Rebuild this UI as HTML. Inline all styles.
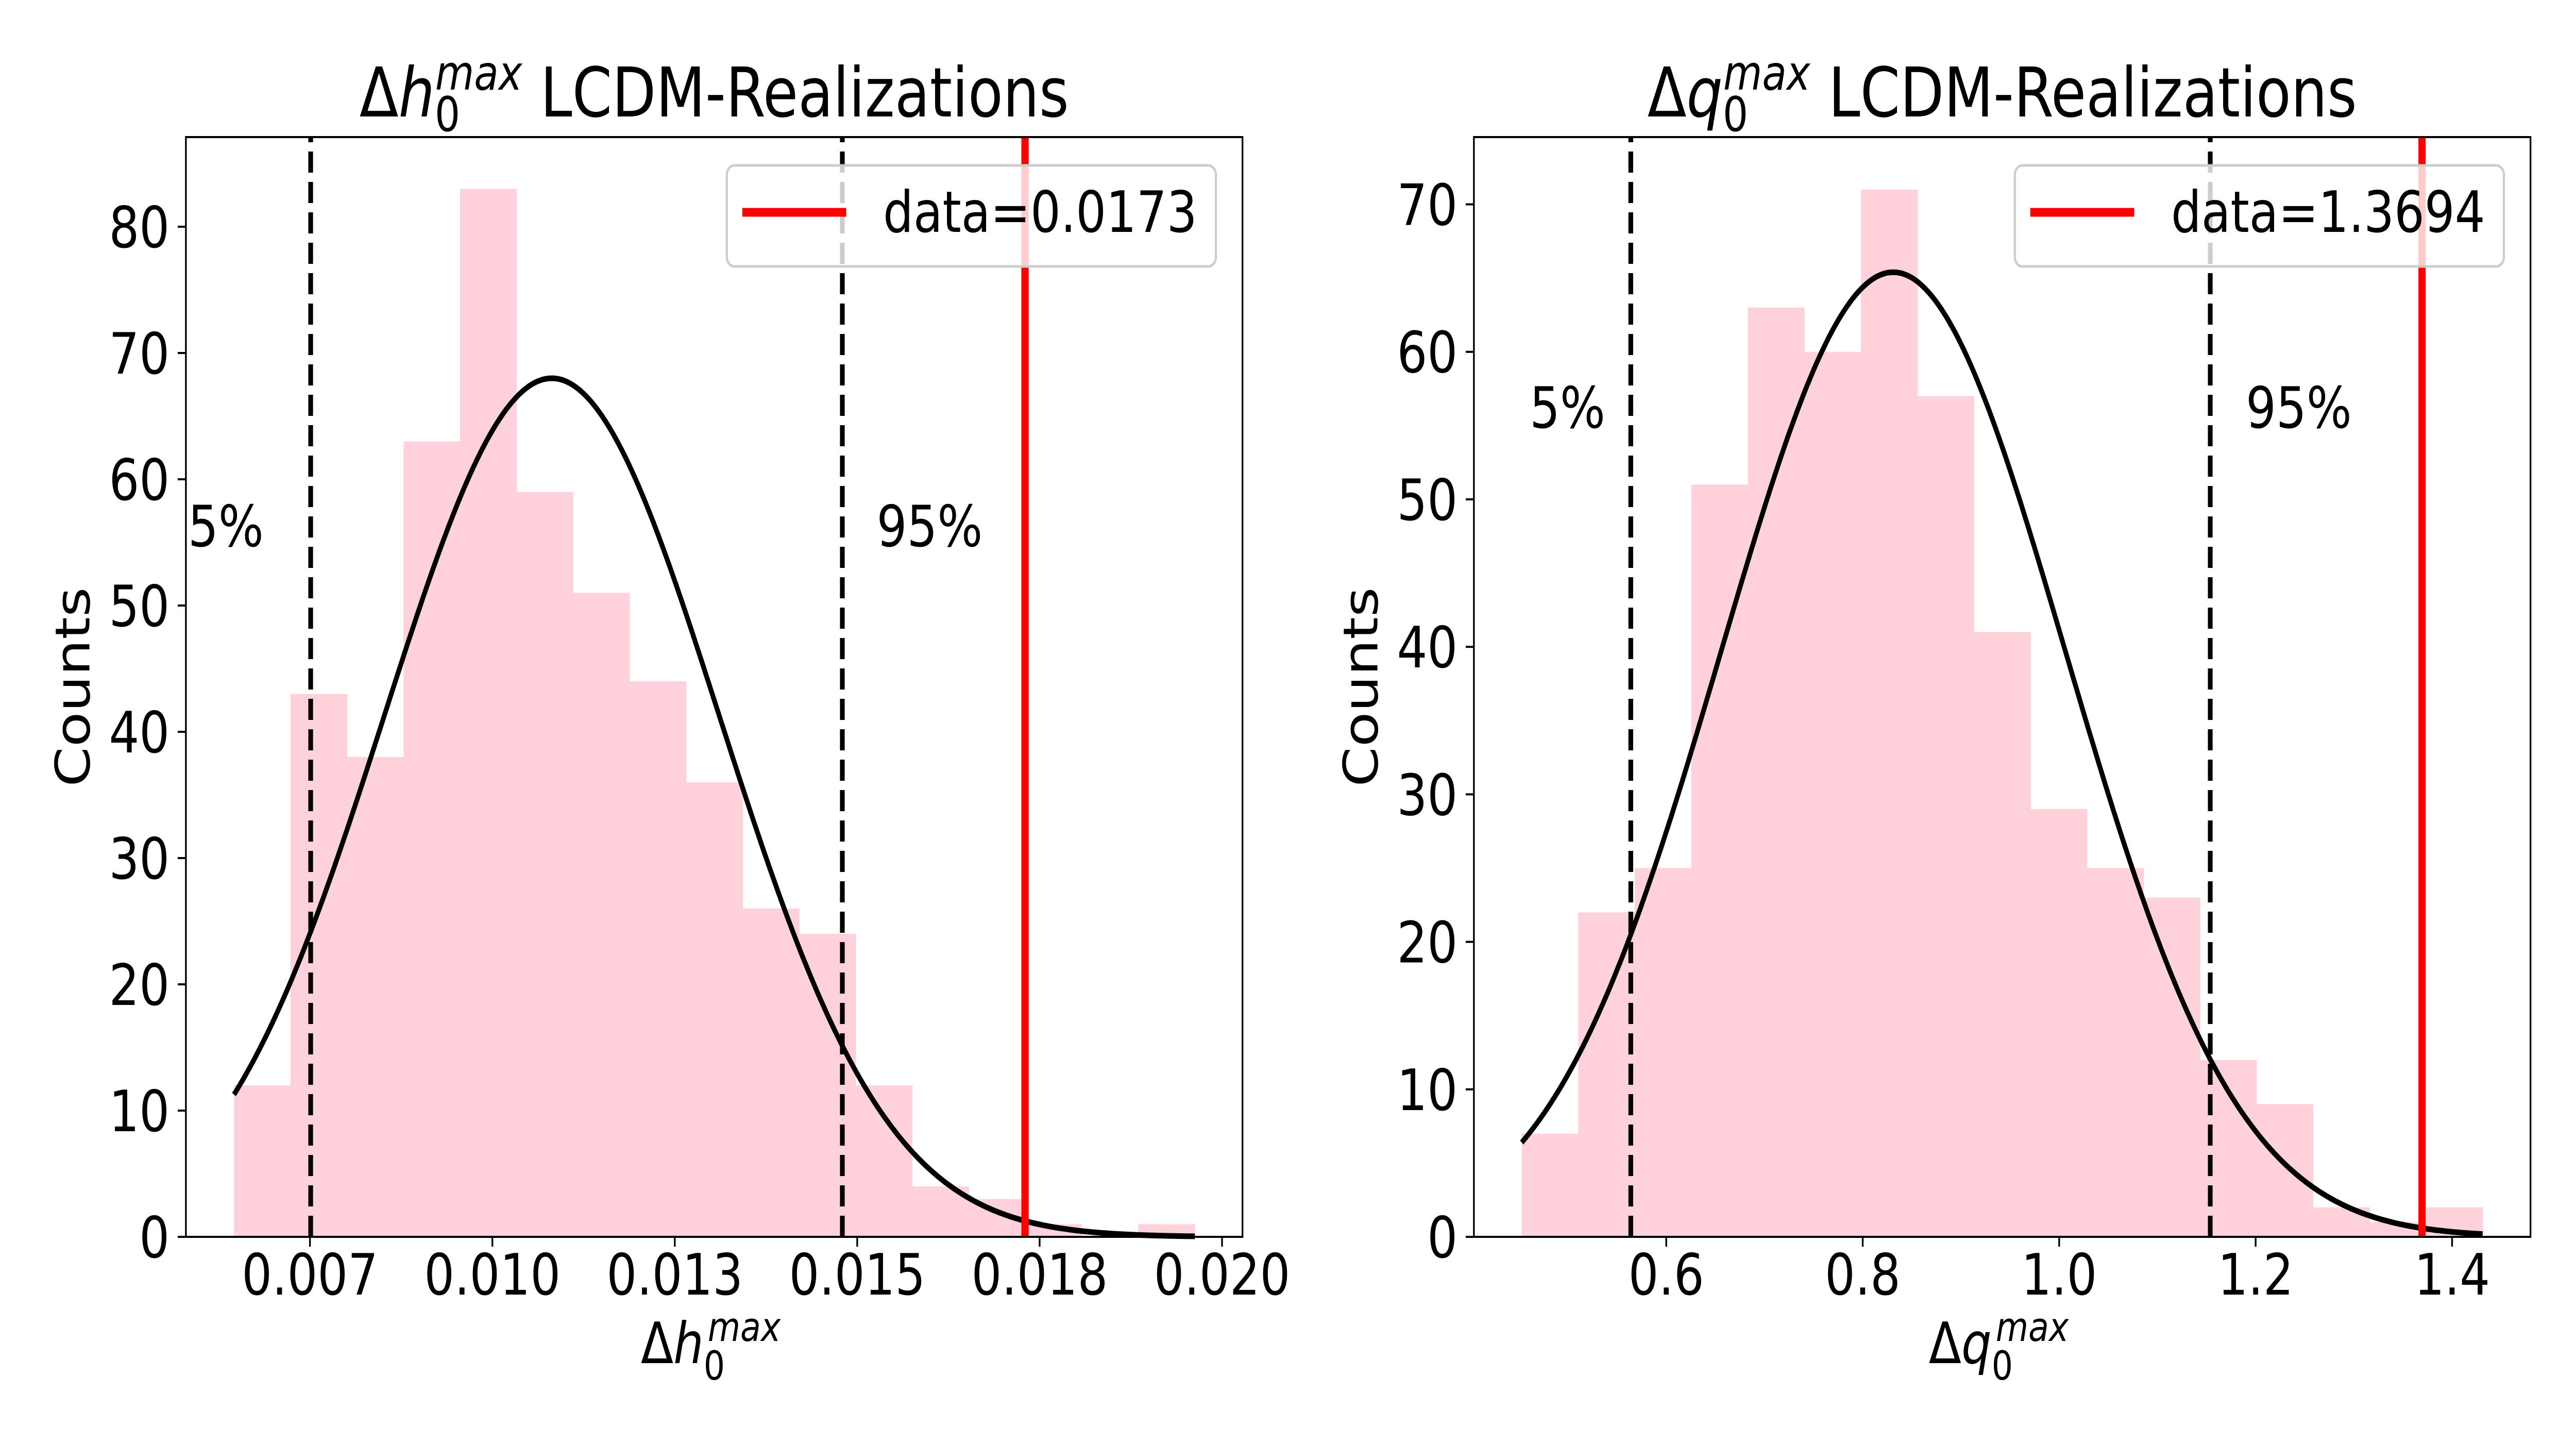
<!DOCTYPE html>
<html><head><meta charset="utf-8"><style>
html,body{margin:0;padding:0;background:#fff;overflow:hidden;width:100%;height:100%;}
svg{display:block;font-family:"DejaVu Sans","Liberation Sans",sans-serif;width:100vw;height:100vh;}
</style></head><body>
<svg id="fig" viewBox="0 0 6000 2800" preserveAspectRatio="none" xmlns="http://www.w3.org/2000/svg"></svg>
<script>
// ---- Left panel data ----
const hCounts = [12,43,38,63,83,59,51,44,36,26,24,12,4,3,1,0,1];
const hBinStart = 0.006459;
const hBinEnd = 0.019627;
const hTicks = [0.0075,0.01,0.0125,0.015,0.0175,0.02];
const hTickLabels = ["0.007","0.010","0.013","0.015","0.018","0.020"];
const hYTicks = [0,10,20,30,40,50,60,70,80];
const hPercentiles = [0.00751,0.014796];
const hData = [0.0173];
const hFit = [0.010814,0.002297,68];
// ---- Right panel data ----
const qCounts = [7,22,25,51,63,60,71,57,41,29,25,23,12,9,2,1,2];
const qBinStart = 0.4529;
const qBinEnd = 1.4311;
const qTicks = [0.6,0.8,1.0,1.2,1.4];
const qTickLabels = ["0.6","0.8","1.0","1.2","1.4"];
const qYTicks = [0,10,20,30,40,50,60,70];
const qPercentiles = [0.5639,1.1538];
const qData = [1.3694];
const qFit = [0.8311,0.1754,65.4];

const NS="http://www.w3.org/2000/svg";
const svg=document.getElementById('fig');
function mk(tag,attrs,parent){const e=document.createElementNS(NS,tag);for(const k in attrs)e.setAttribute(k,attrs[k]);(parent||svg).appendChild(e);return e;}

function panel(o){
  const g=mk('g',{});
  
  
  const L=o.ox+433,R=o.ox+2894,T=266,B=2400;
  const X=v=>L+(v-o.xmin)/(o.xmax-o.xmin)*(R-L);
  const Y=v=>B-v/o.ymax*(B-T);
  const n=o.counts.length,w=(o.binEnd-o.binStart)/n;
  o.counts.forEach((c,i)=>{
    if(c<=0)return;
    const x0=X(o.binStart+i*w),x1=X(o.binStart+(i+1)*w);
    const r=mk('rect',{x:x0,y:Y(c),width:x1-x0+0.6,height:B-Y(c),fill:'#ffd1da'},g);
    
    
  });
  let d='';
  for(let k=0;k<=300;k++){const v=o.binStart+(o.binEnd-o.binStart)*k/300;
    const yv=o.fit[2]*Math.exp(-Math.pow(v-o.fit[0],2)/(2*o.fit[1]*o.fit[1]));
    d+=(k?'L':'M')+X(v).toFixed(1)+' '+Y(yv).toFixed(1);}
  const cp=mk('path',{d:d,fill:'none',stroke:'#000','stroke-width':11},g);
  
  
  o.pct.forEach(p=>{
    const l=mk('line',{x1:X(p),x2:X(p),y1:B,y2:T,stroke:'#000','stroke-width':11,'stroke-dasharray':'41 18'},g);
    
    
  });
  o.data.forEach(p=>{
    const l=mk('line',{x1:X(p),x2:X(p),y1:B,y2:T,stroke:'#ff0000','stroke-width':17},g);
    
    
  });
  const fr=mk('rect',{x:L,y:T,width:R-L,height:B-T,fill:'none',stroke:'#000','stroke-width':4},g);
  
  
  o.xticks.forEach((t,i)=>{
    mk('line',{x1:X(t),x2:X(t),y1:B,y2:B+19,stroke:'#000','stroke-width':4},g);
    const tx=mk('text',{x:X(t),y:2512,'font-size':111,'text-anchor':'middle'},g);
    tx.textContent=o.xlabels[i];
    
    
  });
  o.yticks.forEach(t=>{
    mk('line',{x1:L,x2:L-19,y1:Y(t),y2:Y(t),stroke:'#000','stroke-width':4},g);
    const tx=mk('text',{x:L-38,y:Y(t)+40,'font-size':111,'text-anchor':'end'},g);
    tx.textContent=String(t);
    
    
  });
  const t5=mk('text',{x:o.ox+o.p5[0],y:o.p5[1],'font-size':111},g);
  t5.textContent='5%';
  
  
  const t95=mk('text',{x:o.ox+o.p95[0],y:o.p95[1],'font-size':111},g);
  t95.textContent='95%';
  
  
  const lg=mk('g',{},g);
  
  
  mk('rect',{x:o.ox+1693,y:321,width:1139,height:196,rx:18,fill:'#fff','fill-opacity':0.8,stroke:'#cccccc','stroke-width':5},lg);
  mk('line',{x1:o.ox+1729,x2:o.ox+1971,y1:412,y2:412,stroke:'#ff0000','stroke-width':17},lg);
  const lt=mk('text',{x:o.ox+2057,y:450,'font-size':111},lg);
  lt.textContent=o.legend;
  
  
  const tt=mk('text',{x:(L+R)/2,y:226,'font-size':133,'text-anchor':'middle'},g);
  
  
  tt.innerHTML='Δ<tspan font-style="italic">'+o.sym+'</tspan><tspan font-size="93" dy="28">0</tspan><tspan font-size="93" font-style="italic" dx="-58" dy="-80">max</tspan><tspan dy="52"> LCDM-Realizations</tspan>';
  const xl=mk('text',{x:(L+R)/2-8,y:2645,'font-size':111,'text-anchor':'middle'},g);
  
  
  xl.innerHTML='Δ<tspan font-style="italic">'+o.sym+'</tspan><tspan font-size="78" dy="32">0</tspan><tspan font-size="78" font-style="italic" dx="-40" dy="-75">max</tspan>';
  const yl=mk('text',{x:0,y:0,'font-size':111,'text-anchor':'middle',transform:'translate('+(o.ox+208)+',1333) rotate(-90)'},g);
  yl.textContent='Counts';
  
  
}

panel({name:'h0-histogram-panel',ox:0,xmin:0.0058,xmax:0.02028,ymax:87.1,counts:hCounts,binStart:hBinStart,binEnd:hBinEnd,
  xticks:hTicks,xlabels:hTickLabels,yticks:hYTicks,pct:hPercentiles,data:hData,fit:hFit,
  p5:[438,1060],p95:[2042,1060],legend:'data=0.0173',sym:'h'});
panel({name:'q0-histogram-panel',ox:3000,xmin:0.4042,xmax:1.4798,ymax:74.56,counts:qCounts,binStart:qBinStart,binEnd:qBinEnd,
  xticks:qTicks,xlabels:qTickLabels,yticks:qYTicks,pct:qPercentiles,data:qData,fit:qFit,
  p5:[563,830],p95:[2231,830],legend:'data=1.3694',sym:'q'});
</script>
</body></html>
